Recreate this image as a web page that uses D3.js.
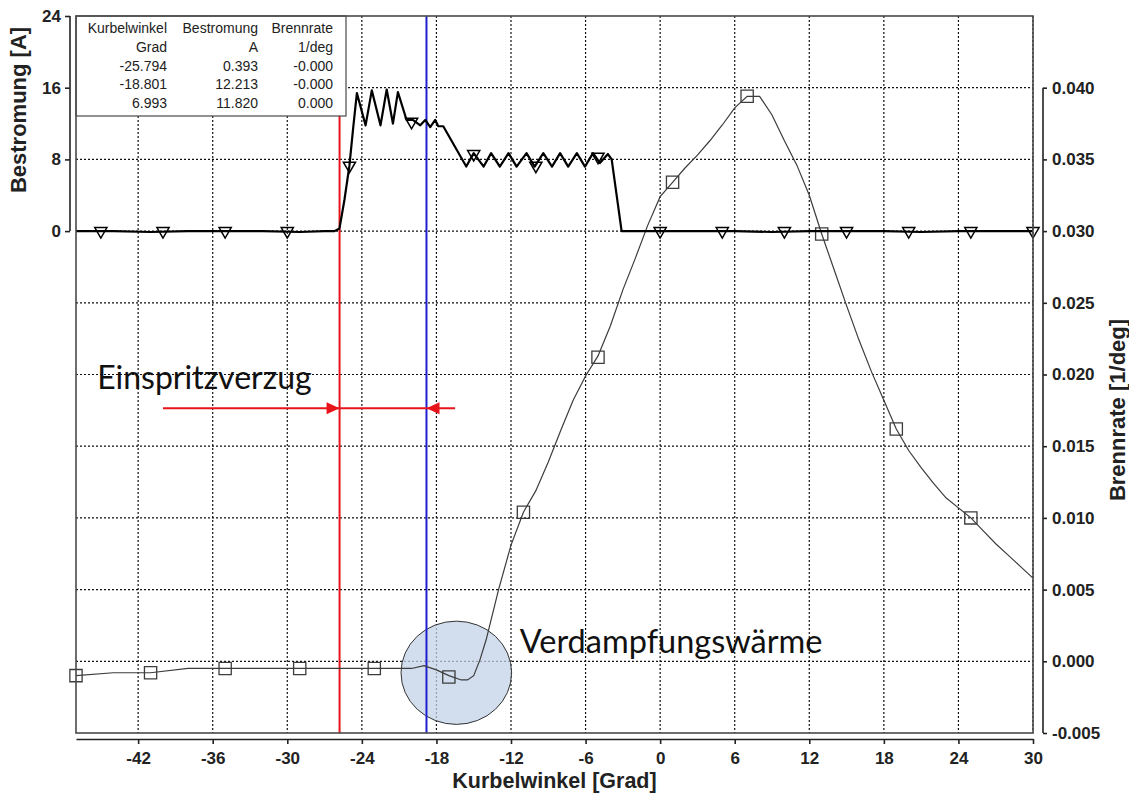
<!DOCTYPE html>
<html>
<head>
<meta charset="utf-8">
<script src="https://cdn.jsdelivr.net/npm/d3@7"></script>
<style>
body { margin: 0; background: #fff; }
</style>
</head>
<body>
<script>
// tick labels
var xTicks = [-42, -36, -30, -24, -18, -12, -6, 0, 6, 12, 18, 24, 30];
var currentTicks = [0, 8, 16, 24];
var rateTicks = [-0.005, 0, 0.005, 0.010, 0.015, 0.020, 0.025, 0.030, 0.035, 0.040];

// Bestromung [A] over Kurbelwinkel [Grad]
var currentAngle = [-47, -44, -41, -38, -35, -32, -29, -27, -26.2, -25.8, -25.4, -25.0, -24.7, -24.4,
    -23.7, -23.2, -22.5, -22.0, -21.5, -21.1, -20.4, -19.9, -19.3, -18.9, -18.5, -18.1, -17.85, -17.45,
    -15.6, -15.0, -14.2, -13.6, -12.9, -12.2, -11.55, -10.75, -10.1, -9.4, -8.7, -8.05, -7.4, -6.7,
    -6.05, -5.4, -4.85, -4.2, -3.9, -3.1, 0, 3, 6, 9, 12, 15, 18, 21, 24, 27, 30];
var currentValue = [0, 0, -0.1, 0, 0, 0, -0.1, 0, 0, 0.3, 3.5, 7.3, 11.5, 15.4,
    11.8, 15.7, 11.8, 15.8, 12.0, 15.5, 12.4, 12.4, 11.8, 12.4, 11.6, 12.4, 11.7, 11.7,
    7.2, 8.7, 7.2, 8.7, 7.2, 8.7, 7.2, 8.7, 7.2, 8.7, 7.2, 8.7, 7.2, 8.7,
    7.2, 8.7, 7.6, 8.6, 8.0, 0, 0, 0, 0, -0.1, 0, 0, 0, -0.1, 0, 0, 0];

// Brennrate [1/deg] over Kurbelwinkel [Grad]
var rateAngle = [-47, -44, -41, -38, -35, -29, -23, -20, -19, -18, -17, -16, -15.5, -15, -14.5, -14,
    -13, -12, -11, -10, -9, -8, -7, -6, -5, -4, -3, -2, -1, 0, 1, 2, 3, 4, 5, 6, 7, 8, 9, 10,
    11, 12, 13, 14, 15, 16, 17, 18, 19, 20, 21, 22, 23, 24, 25, 26, 27, 28, 29, 30];
var rateValue = [-0.0010, -0.0008, -0.0008, -0.0005, -0.0005, -0.0005, -0.0005, -0.0005, -0.0003,
    -0.0006, -0.0010, -0.0013, -0.0013, -0.0010, 0.0001, 0.0015,
    0.0050, 0.0081, 0.0104, 0.0119, 0.0139, 0.0161, 0.0182, 0.0199, 0.0213, 0.0234, 0.0259,
    0.0281, 0.0304, 0.0324, 0.0334, 0.0344, 0.0353, 0.0363, 0.0374, 0.0386, 0.0394, 0.0394,
    0.0381, 0.0363, 0.0346, 0.0325, 0.0298, 0.0273, 0.0248, 0.0224, 0.0202, 0.0182, 0.0162,
    0.0147, 0.0135, 0.0124, 0.0114, 0.0107, 0.0100, 0.0091, 0.0082, 0.0074, 0.0066, 0.0058];

// markers
var triangleAngle = [-45, -40, -35, -30, -25, -20, -15, -10, -5, 0, 5, 10, 15, 20, 25, 30];
var triangleValue = [0, 0, 0, 0, 7.3, 12.2, 8.6, 7.3, 8.3, 0, 0, 0, 0, 0, 0, 0];
var squareAngle = [-47, -41, -35, -29, -23, -17, -11, -5, 1, 7, 13, 19, 25];
var squareValue = [-0.0010, -0.0008, -0.0005, -0.0005, -0.0005, -0.0011, 0.0104, 0.0212,
    0.0334, 0.0394, 0.0298, 0.0162, 0.0100];

// cursor table
var tableHeader = ['Kurbelwinkel', 'Bestromung', 'Brennrate'];
var tableUnit = ['Grad', 'A', '1/deg'];
var tableRows = [
    ['-25.794', '0.393', '-0.000'],
    ['-18.801', '12.213', '-0.000'],
    ['6.993', '11.820', '0.000']
];
var cursorAngle = [-25.794, -18.801];

// colors
var colorRed = '#e8141b',
    colorBlue = '#1f1fd0',
    colorFrame = '#4a4a4a',
    colorRate = '#3c3c3c';

var fontAxis = 'Liberation Sans, Arial, sans-serif',
    fontNote = 'Lato, Carlito, sans-serif';

var minusFix = function (f) {
    return function (d) { return f(d).replace('\u2212', '-'); };
};

// canvas
var svg = d3.select('body')
    .append('svg')
    .attr('width', 1129)
    .attr('height', 793);

svg.append('rect')
    .attr('width', 1129)
    .attr('height', 793)
    .attr('fill', 'white');

// scales
var x = d3.scaleLinear().domain([-47, 30]).range([76, 1033]);
var yCurrent = d3.scaleLinear().domain([-56, 24]).range([733, 16]);
var yRate = d3.scaleLinear().domain([-0.005, 0.045]).range([733, 16]);

// grid
svg.append('g').selectAll('line').data(xTicks).enter().append('line')
    .attr('x1', function (d) { return x(d); })
    .attr('x2', function (d) { return x(d); })
    .attr('y1', yRate.range()[1])
    .attr('y2', yRate.range()[0])
    .attr('stroke', '#111')
    .attr('stroke-width', 1.2)
    .attr('stroke-dasharray', '2,2');

svg.append('g').selectAll('line').data(rateTicks.slice(1)).enter().append('line')
    .attr('x1', x.range()[0])
    .attr('x2', x.range()[1])
    .attr('y1', function (d) { return yRate(d); })
    .attr('y2', function (d) { return yRate(d); })
    .attr('stroke', '#111')
    .attr('stroke-width', 1.2)
    .attr('stroke-dasharray', '2,2');

// highlight circle (Verdampfungswaerme)
var circleAt = [-16.4, -0.0008];
svg.append('ellipse')
    .attr('cx', x(circleAt[0]))
    .attr('cy', yRate(circleAt[1]))
    .attr('rx', x(circleAt[0] + 4.45) - x(circleAt[0]))
    .attr('ry', yRate(circleAt[1]) - yRate(circleAt[1] + 0.0036))
    .attr('fill', '#c3d3e8')
    .attr('fill-opacity', 0.75)
    .attr('stroke', '#333')
    .attr('stroke-width', 1);

// cursors
svg.append('g').selectAll('line').data(cursorAngle).enter().append('line')
    .attr('x1', function (d) { return x(d); })
    .attr('x2', function (d) { return x(d); })
    .attr('y1', yRate.range()[1])
    .attr('y2', yRate.range()[0])
    .attr('stroke', function (d, i) { return i === 0 ? colorRed : colorBlue; })
    .attr('stroke-width', 2);

// Brennrate curve
var rateLine = d3.line()
    .x(function (d, i) { return x(rateAngle[i]); })
    .y(function (d) { return yRate(d); });

svg.append('path')
    .attr('d', rateLine(rateValue))
    .attr('fill', 'none')
    .attr('stroke', colorRate)
    .attr('stroke-width', 1.2);

svg.append('g').selectAll('path').data(squareValue).enter().append('path')
    .attr('d', d3.symbol().type(d3.symbolSquare).size(150))
    .attr('transform', function (d, i) {
        return 'translate(' + x(squareAngle[i]) + ',' + yRate(d) + ')';
    })
    .attr('fill', 'none')
    .attr('stroke', colorRate)
    .attr('stroke-width', 1.3);

// Bestromung curve
var currentLine = d3.line()
    .x(function (d, i) { return x(currentAngle[i]); })
    .y(function (d) { return yCurrent(d); });

svg.append('path')
    .attr('d', currentLine(currentValue))
    .attr('fill', 'none')
    .attr('stroke', '#000')
    .attr('stroke-width', 2.2)
    .attr('stroke-linejoin', 'round');

svg.append('g').selectAll('path').data(triangleValue).enter().append('path')
    .attr('d', d3.symbol().type(d3.symbolTriangle).size(64))
    .attr('transform', function (d, i) {
        return 'translate(' + x(triangleAngle[i]) + ',' + yCurrent(d) + ') rotate(180)';
    })
    .attr('fill', 'none')
    .attr('stroke', '#000')
    .attr('stroke-width', 1.5);

// cursor table
var table = svg.append('g');
table.append('rect')
    .attr('x', 76)
    .attr('y', 16)
    .attr('width', 270)
    .attr('height', 100)
    .attr('fill', 'white')
    .attr('stroke', colorFrame)
    .attr('stroke-width', 1.2);

var colRight = [167, 258, 333];
var tableLines = [tableHeader, tableUnit].concat(tableRows);
tableLines.forEach(function (row, r) {
    table.selectAll('.row' + r).data(row).enter().append('text')
        .attr('x', function (d, c) { return colRight[c]; })
        .attr('y', 33 + r * 18.8)
        .attr('text-anchor', 'end')
        .attr('font-family', fontAxis)
        .attr('font-size', 14)
        .attr('fill', '#222')
        .text(function (d) { return d; });
});

// plot frame
svg.append('rect')
    .attr('x', x.range()[0])
    .attr('y', yRate.range()[1])
    .attr('width', x.range()[1] - x.range()[0])
    .attr('height', yRate.range()[0] - yRate.range()[1])
    .attr('fill', 'none')
    .attr('stroke', colorFrame)
    .attr('stroke-width', 1.6);

// axes
var xAxis = svg.append('g')
    .attr('transform', 'translate(0,739)')
    .call(d3.axisBottom(x).tickValues(xTicks).tickSize(5).tickSizeOuter(0).tickPadding(8)
        .tickFormat(minusFix(d3.format('d'))));

var leftAxis = svg.append('g')
    .attr('transform', 'translate(70,0)')
    .call(d3.axisLeft(yCurrent).tickValues(currentTicks).tickSize(5).tickSizeOuter(0).tickPadding(4));
leftAxis.select('.domain').remove();
leftAxis.append('line')
    .attr('y1', yCurrent(0))
    .attr('y2', yCurrent(24))
    .attr('stroke', 'currentColor');

var rightAxis = svg.append('g')
    .attr('transform', 'translate(1043,0)')
    .call(d3.axisRight(yRate).tickValues(rateTicks).tickSize(4).tickSizeOuter(0).tickPadding(5)
        .tickFormat(minusFix(d3.format('.3f'))));
rightAxis.select('.domain').remove();
rightAxis.append('line')
    .attr('y1', yRate(-0.005))
    .attr('y2', yRate(0.040))
    .attr('stroke', 'currentColor');

[xAxis, leftAxis, rightAxis].forEach(function (g) {
    g.attr('color', '#222')
        .attr('font-family', fontAxis)
        .attr('font-size', 17)
        .attr('font-weight', 'bold');
    g.selectAll('line, path').attr('stroke-width', 1.6);
});

// axis titles
svg.append('text')
    .attr('x', (x.range()[0] + x.range()[1]) / 2)
    .attr('y', 788)
    .attr('text-anchor', 'middle')
    .attr('font-family', fontAxis)
    .attr('font-size', 21.5)
    .attr('font-weight', 'bold')
    .attr('fill', '#222')
    .text('Kurbelwinkel [Grad]');

svg.append('text')
    .attr('transform', 'translate(26,110) rotate(-90)')
    .attr('text-anchor', 'middle')
    .attr('font-family', fontAxis)
    .attr('font-size', 22)
    .attr('font-weight', 'bold')
    .attr('fill', '#222')
    .text('Bestromung [A]');

svg.append('text')
    .attr('transform', 'translate(1125,410) rotate(-90)')
    .attr('text-anchor', 'middle')
    .attr('font-family', fontAxis)
    .attr('font-size', 22)
    .attr('font-weight', 'bold')
    .attr('fill', '#222')
    .text('Brennrate [1/deg]');

// annotations
svg.append('text')
    .attr('x', x(-45.3))
    .attr('y', yRate(0.0190))
    .attr('font-family', fontNote)
    .attr('font-size', 32)
    .attr('fill', '#111')
    .text('Einspritzverzug');

svg.append('text')
    .attr('x', x(-11.3))
    .attr('y', yRate(0.0006))
    .attr('font-family', fontNote)
    .attr('font-size', 32.5)
    .attr('fill', '#111')
    .text('Verdampfungswärme');

// Einspritzverzug arrows
var arrowY = yRate(0.01764);
svg.append('line')
    .attr('x1', x(-40.0))
    .attr('x2', x(-16.5))
    .attr('y1', arrowY)
    .attr('y2', arrowY)
    .attr('stroke', colorRed)
    .attr('stroke-width', 2);

svg.append('g').selectAll('path').data(cursorAngle).enter().append('path')
    .attr('d', function (d, i) {
        var tip = x(d), dir = i === 0 ? -1 : 1;
        return 'M' + tip + ',' + arrowY + 'L' + (tip + dir * 13) + ',' + (arrowY - 6) +
            'L' + (tip + dir * 13) + ',' + (arrowY + 6) + 'Z';
    })
    .attr('fill', colorRed);
</script>
</body>
</html>
